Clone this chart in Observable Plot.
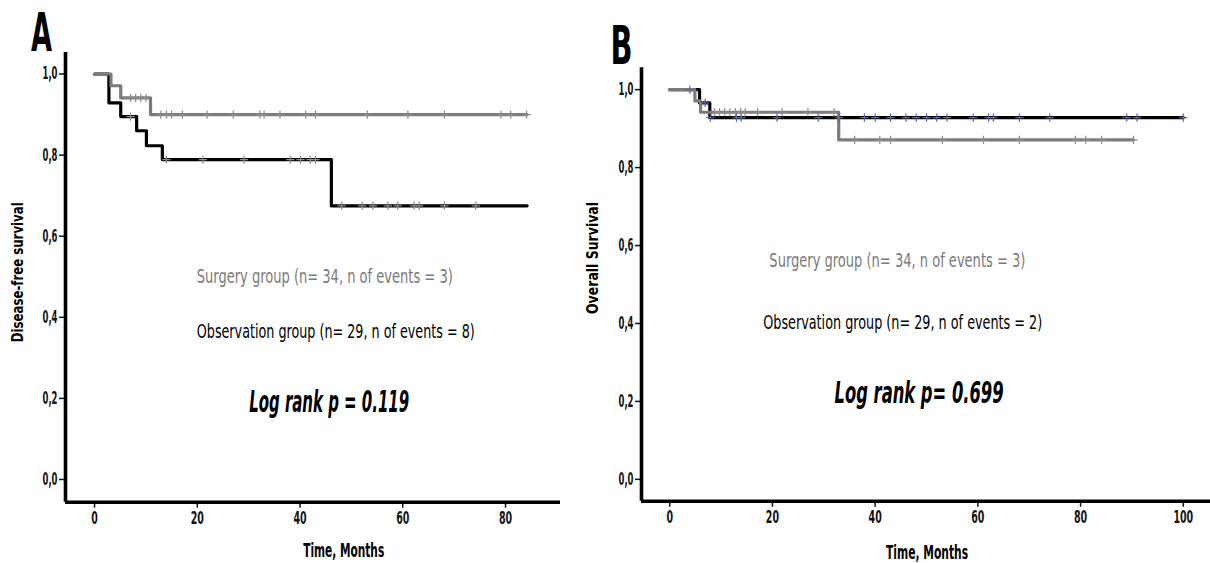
<!DOCTYPE html>
<html>
<head>
<meta charset="utf-8">
<script src="https://cdn.jsdelivr.net/npm/d3@7"></script>
<script src="https://cdn.jsdelivr.net/npm/@observablehq/plot@0.6"></script>
<style>
  html, body { margin: 0; padding: 0; background: #fff; }
  #wrap { position: relative; width: 1210px; height: 563px; overflow: hidden; background: #fff; }
  #panelA { position: absolute; left: 0; top: 0; }
  #panelB { position: absolute; left: 580px; top: 0; }
</style>
</head>
<body>
<div id="wrap"><div id="panelA"></div><div id="panelB"></div></div>
<script>
// ---------- Data ----------
// Panel A: Disease-free survival (Kaplan–Meier steps)
const aSurgT = [0, 3.2, 5.1, 10.9, 84.2];
const aSurgS = [1, 0.971, 0.941, 0.900, 0.900];
const aSurgCensor = [7, 8, 9, 10, 12.9, 14, 15, 17.1, 21.9, 27, 32.2, 33, 36.1, 41.1, 43, 53.1, 61, 68.1, 79.1, 81, 84.1];
const aObsT = [0, 2.8, 5.1, 8.2, 10.1, 13.2, 46.1, 84.2];
const aObsS = [1, 0.929, 0.895, 0.860, 0.823, 0.789, 0.675, 0.675];
const aObsCensor = [7, 14, 21.1, 29.1, 38.1, 40.1, 42, 43, 48.1, 52.1, 54.2, 57.1, 59, 62.2, 63.2, 68.1, 74.2];

// Panel B: Overall survival
const bSurgT = [0, 4.9, 6.0, 32.9, 90.3];
const bSurgS = [1, 0.971, 0.942, 0.871, 0.871];
const bSurgCensor = [8.7, 9.7, 10.7, 11.7, 12.8, 13.8, 14.7, 17.1, 21.9, 26.9, 32.0, 36.0, 40.9, 43.0, 53.1, 61.1, 68.1, 79.0, 81.0, 84.1, 90.3];
const bObsT = [0, 5.8, 7.8, 100];
const bObsS = [1, 0.966, 0.928, 0.928];
const bObsCensor = [3.9, 6.9, 7.9, 13.0, 13.9, 20.9, 28.9, 33.0, 37.9, 40.0, 43.0, 46.0, 48.0, 50.0, 52.0, 54.0, 59.1, 62.1, 63.0, 68.1, 74.0, 89.0, 91.0, 100.0];

// Ticks
const xTicksA = [0, 20, 40, 60, 80];
const xTicksB = [0, 20, 40, 60, 80, 100];
const yTicks = [0, 0.2, 0.4, 0.6, 0.8, 1.0];

// Texts
const panelLetters = ["A", "B"];
const yTitles = ["Disease-free survival", "Overall Survival"];
const xTitle = "Time, Months";
const surgLabels = ["Surgery group (n= 34, n of events = 3)", "Surgery group (n= 34, n of events = 3)"];
const obsLabels = ["Observation group (n= 29, n of events = 8)", "Observation group (n= 29, n of events = 2)"];
const pLabels = ["Log rank p = 0.119", "Log rank p= 0.699"];

// ---------- Helpers ----------
const FONT = '"Liberation Sans Narrow","DejaVu Sans Condensed","Arial Narrow","Liberation Sans",sans-serif';
const GRAY = "#7b7b7b";
const CENS_GRAY = "#8c8c8c";
const BLUE = "#4f66b3";
const fmt = d => d.toFixed(1).replace(".", ",");
const steps = (T, S) => T.map((t, i) => ({t, s: S[i]}));
const survAt = (T, S, t) => { let v = S[0]; for (let i = 0; i < T.length; i++) if (T[i] <= t) v = S[i]; return v; };
const censorRows = (T, S, C) => C.map(t => ({t, s: survAt(T, S, t)}));

// condensed look for tick labels
const tickWidth = s => s.includes(",") ? 15 : 6.6 * s.length;

function squeeze(svg, widths) {
  svg.querySelectorAll("text").forEach(el => {
    const s = el.textContent;
    let w = widths[s];
    if (!w && el.closest('g[aria-label$="tick label"]')) {
      w = tickWidth(s);
      el.setAttribute("font-size", 17);
      el.style.setProperty("font-size", "17px", "important");
      el.style.setProperty("font-weight", "bold", "important");
    }
    if (w) { el.setAttribute("textLength", w); el.setAttribute("lengthAdjust", "spacingAndGlyphs"); }
  });
}

function panel(cfg) {
  const [x0] = cfg.xDomain, [y0] = cfg.yDomain;
  return Plot.plot({
    width: cfg.width, height: 563,
    marginLeft: cfg.ml, marginRight: cfg.mr, marginTop: cfg.mt, marginBottom: cfg.mb,
    style: {fontFamily: FONT, fontSize: "15px", fontWeight: "bold", color: "#111", background: "#fff", overflow: "visible"},
    x: {domain: cfg.xDomain},
    y: {domain: cfg.yDomain},
    marks: [
      Plot.axisX(cfg.xTicks, {tickSize: 6, tickPadding: 4, strokeWidth: 1.5, label: null, tickFormat: d => String(d)}),
      Plot.axisY(yTicks, {tickSize: 6, tickPadding: 2, strokeWidth: 1.5, label: null, tickFormat: fmt}),
      Plot.ruleX([x0], {strokeWidth: 3.6, stroke: "#000"}),
      Plot.ruleY([y0], {strokeWidth: 3.6, stroke: "#000"}),
      Plot.line(steps(cfg.obsT, cfg.obsS), {x: "t", y: "s", curve: "step-after", stroke: "#000", strokeWidth: 3.2}),
      Plot.line(steps(cfg.surgT, cfg.surgS), {x: "t", y: "s", curve: "step-after", stroke: GRAY, strokeWidth: 3.2}),
      Plot.dot(censorRows(cfg.obsT, cfg.obsS, cfg.obsC), {x: "t", y: "s", symbol: "plus", r: 2.8, stroke: cfg.obsCensorColor, strokeWidth: 1.2}),
      Plot.dot(censorRows(cfg.surgT, cfg.surgS, cfg.surgC), {x: "t", y: "s", symbol: "plus", r: 2.8, stroke: CENS_GRAY, strokeWidth: 1.2}),
      Plot.text([cfg.surgLabel], {x: cfg.surgPos[0], y: cfg.surgPos[1], text: d => d, textAnchor: "start", fill: "#7a7a7a", fontSize: 20, fontWeight: "normal"}),
      Plot.text([cfg.obsLabel], {x: cfg.obsPos[0], y: cfg.obsPos[1], text: d => d, textAnchor: "start", fill: "#000", fontSize: 20, fontWeight: "normal"}),
      Plot.text([cfg.pLabel], {x: cfg.pPos[0], y: cfg.pPos[1], text: d => d, textAnchor: "start", fill: "#000", fontSize: 30, fontWeight: "bold", fontStyle: "italic"}),
      Plot.text([xTitle], {x: cfg.xTitleX, frameAnchor: "bottom", dy: cfg.xTitleDy, text: d => d, textAnchor: "middle", lineAnchor: "middle", fontSize: 19, fill: "#000"}),
      Plot.text([cfg.yTitle], {y: cfg.yTitleY, frameAnchor: "left", dx: cfg.yTitleDx, rotate: -90, text: d => d, textAnchor: "middle", lineAnchor: "middle", fontSize: 16, fill: "#000"}),
      Plot.text([cfg.letter], {frameAnchor: "top-left", dx: cfg.letterDx, dy: cfg.letterDy, text: d => d, textAnchor: "middle", lineAnchor: "middle", fontSize: 54, fill: "#000"})
    ]
  });
}

const svgA = panel({
  width: 590, ml: 65, mr: 30, mt: 52, mb: 61.3,
  xDomain: [-5.65, 90.7], yDomain: [-0.056, 1.053], xTicks: xTicksA,
  surgT: aSurgT, surgS: aSurgS, surgC: aSurgCensor,
  obsT: aObsT, obsS: aObsS, obsC: aObsCensor, obsCensorColor: CENS_GRAY,
  surgLabel: surgLabels[0], obsLabel: obsLabels[0], pLabel: pLabels[0],
  surgPos: [19.9, 0.50], obsPos: [19.9, 0.364], pPos: [30.1, 0.19],
  xTitleX: 48.5, xTitleDy: 48.5, yTitle: yTitles[0], yTitleY: 0.511, yTitleDx: -47.5,
  letter: panelLetters[0], letterDx: -24, letterDy: -19
});
squeeze(svgA, {
  [surgLabels[0]]: 256, [obsLabels[0]]: 278, [pLabels[0]]: 160,
  [xTitle]: 81, [yTitles[0]]: 140, [panelLetters[0]]: 21
});
document.getElementById("panelA").appendChild(svgA);

const svgB = panel({
  width: 630, ml: 61, mr: 0, mt: 67.3, mb: 62.3,
  xDomain: [-5.5, 105.3], yDomain: [-0.056, 1.056], xTicks: xTicksB,
  surgT: bSurgT, surgS: bSurgS, surgC: bSurgCensor,
  obsT: bObsT, obsS: bObsS, obsC: bObsCensor, obsCensorColor: BLUE,
  surgLabel: surgLabels[1], obsLabel: obsLabels[1], pLabel: pLabels[1],
  surgPos: [19.4, 0.5615], obsPos: [18.2, 0.403], pPos: [32.1, 0.22],
  xTitleX: 50.1, xTitleDy: 51.3, yTitle: yTitles[1], yTitleY: 0.568, yTitleDx: -48.5,
  letter: panelLetters[1], letterDx: -20, letterDy: -20.6
});
squeeze(svgB, {
  [surgLabels[1]]: 256, [obsLabels[1]]: 279, [pLabels[1]]: 169,
  [xTitle]: 82, [yTitles[1]]: 112, [panelLetters[1]]: 22
});
document.getElementById("panelB").appendChild(svgB);
</script>
</body>
</html>
